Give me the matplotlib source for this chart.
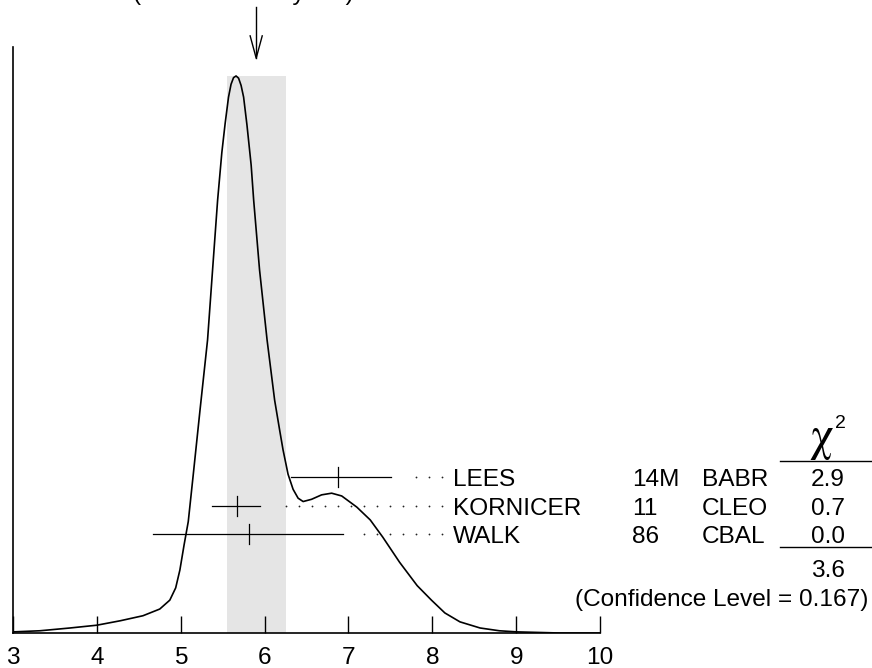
import numpy as np
import matplotlib
matplotlib.use("Agg")
import matplotlib.pyplot as plt
from matplotlib.lines import Line2D

plt.rcParams['font.family'] = ['Liberation Sans', 'DejaVu Sans']

# ideogram curve (peak normalised to 1)
curve_x = [3.00, 3.32, 3.68, 4.00, 4.28, 4.55, 4.75, 4.87, 4.94, 4.99, 5.04, 5.09,
           5.15, 5.23, 5.32, 5.38, 5.44, 5.49, 5.53, 5.57, 5.60, 5.63, 5.66, 5.69,
           5.72, 5.75, 5.79, 5.84, 5.87, 5.94, 6.03, 6.12, 6.18, 6.22, 6.28, 6.34,
           6.40, 6.46, 6.56, 6.68, 6.80, 6.92, 7.10, 7.26, 7.41, 7.61, 7.82, 7.99,
           8.15, 8.33, 8.57, 8.80, 9.01, 9.52, 10.0]
curve_y = [0.002, 0.004, 0.009, 0.014, 0.022, 0.031, 0.043, 0.059, 0.081, 0.113, 0.158, 0.200,
           0.285, 0.400, 0.526, 0.652, 0.777, 0.862, 0.915, 0.962, 0.985, 0.997, 1.000, 0.996,
           0.983, 0.962, 0.912, 0.840, 0.777, 0.652, 0.526, 0.418, 0.364, 0.329, 0.285, 0.258,
           0.242, 0.236, 0.240, 0.248, 0.251, 0.246, 0.226, 0.203, 0.172, 0.127, 0.085, 0.059,
           0.036, 0.020, 0.009, 0.004, 0.002, 0.0, 0.0]

# measurements
names = ['LEES', 'KORNICER', 'WALK']
years = ['14M', '11', '86']
experiments = ['BABR', 'CLEO', 'CBAL']
values = [6.87, 5.67, 5.81]
err_minus = [0.56, 0.30, 1.14]
err_plus = [0.64, 0.28, 1.12]
chi2 = ['2.9', '0.7', '0.0']
chi2_total = '3.6'
conf_level = 0.167

avg = 5.9
avg_err = 0.35
scale_factor = 1.3

W, H = 872, 668
def fx(px):
    return px / W
def fy(py):
    return 1 - py / H

fig = plt.figure(figsize=(8.72, 6.68), dpi=100)
ax = fig.add_axes([fx(13), fy(633), fx(600) - fx(13), fy(47) - fy(633)])
ax.set_xlim(3, 10)
ax.set_ylim(0, 1.052)

# shaded band for weighted average
ax.fill_between([avg - avg_err, avg + avg_err], 0, 1.0, color='#e5e5e5', lw=0, zorder=0)

ax.plot(curve_x, curve_y, color='black', lw=1.2, zorder=3, solid_joinstyle='round')

# error bars with dotted leaders
row_y = [0.280, 0.228, 0.178]
dot_end = 8.11
for v, lo, hi, y in zip(values, err_minus, err_plus, row_y):
    ax.plot([v - lo, v + hi], [y, y], color='black', lw=0.9, zorder=4)
    ax.plot([v, v], [y - 0.018, y + 0.018], color='black', lw=0.9, zorder=4)
    dots = np.arange(dot_end, v + hi + 0.24, -0.155)
    ax.plot(dots, [y] * len(dots), ls='none', marker='o', ms=1.3, mew=0,
            color='#222222')

# arrow at the average
ax.plot([avg, avg], [1.032, 1.124], color='black', lw=1.0, clip_on=False)
ax.plot([avg - 0.072, avg, avg + 0.072], [1.072, 1.032, 1.072], color='black', lw=1.0,
        clip_on=False)

for s in ['top', 'right']:
    ax.spines[s].set_visible(False)
ax.spines['left'].set_linewidth(1.2)
ax.spines['bottom'].set_linewidth(1.2)
ax.set_yticks([])
ax.set_xticks(range(3, 11))
ax.tick_params(axis='x', direction='in', length=12, width=1.0, pad=10, labelsize=17.6)

fs = 17.6
row_py = [477, 506, 534]
for n, yr, ex, c, py in zip(names, years, experiments, chi2, row_py):
    b = fy(py + 9)
    fig.text(fx(453), b, n, fontsize=fs, va='baseline', ha='left')
    fig.text(fx(632), b, yr, fontsize=fs, va='baseline', ha='left')
    fig.text(fx(702), b, ex, fontsize=fs, va='baseline', ha='left')
    fig.text(fx(828), b, c, fontsize=fs, va='baseline', ha='center')

fig.text(fx(821), fy(450), '\u03c7', fontsize=34, va='baseline', ha='center',
         family='STIXGeneral')
fig.text(fx(840), fy(428), '2', fontsize=14, va='baseline', ha='center')
fig.add_artist(Line2D([fx(780), fx(872)], [fy(461), fy(461)], color='black', lw=1.0))
fig.add_artist(Line2D([fx(780), fx(872)], [fy(547), fy(547)], color='black', lw=1.0))
fig.text(fx(828), fy(577), chi2_total, fontsize=fs, va='baseline', ha='center')
fig.text(fx(868), fy(606), f'(Confidence Level = {conf_level:.3f})', fontsize=fs,
         va='baseline', ha='right')

fig.text(fx(133), fy(0), f'(Error scaled by {scale_factor})', fontsize=fs,
         va='baseline', ha='left')

fig.savefig('out.png', dpi=100)
